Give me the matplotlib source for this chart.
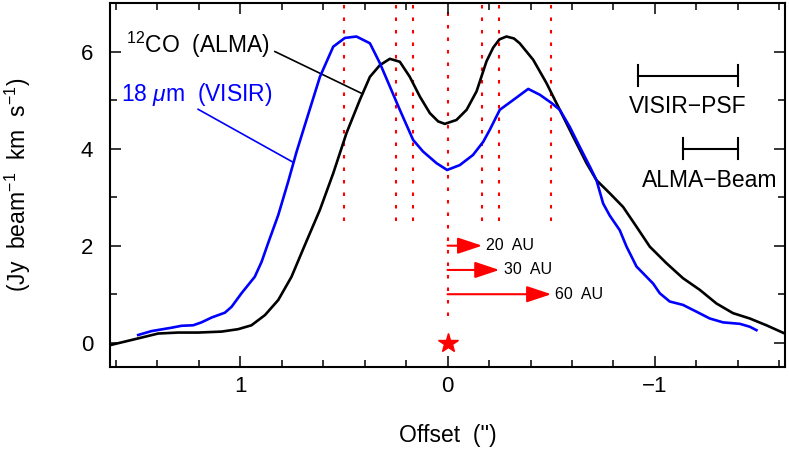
import numpy as np
import matplotlib
matplotlib.use("Agg")
import matplotlib.pyplot as plt
from matplotlib.ticker import MultipleLocator

plt.rcParams['font.family'] = ['Liberation Sans', 'DejaVu Sans']
plt.rcParams['mathtext.fontset'] = 'custom'
plt.rcParams['mathtext.rm'] = 'Liberation Sans'
plt.rcParams['mathtext.it'] = 'Liberation Sans:italic'

# 12CO (ALMA) profile, offset in arcsec
co_offset = [1.627, 1.491, 1.395, 1.300, 1.202, 1.089, 1.009, 0.945, 0.880, 0.816,
             0.752, 0.688, 0.615, 0.551, 0.487, 0.423, 0.374, 0.326, 0.278, 0.230,
             0.182, 0.133, 0.085, 0.045, 0.013, -0.043, -0.092, -0.140, -0.188, -0.220,
             -0.250, -0.284, -0.320, -0.348, -0.413, -0.477, -0.541, -0.605, -0.670, -0.718,
             -0.782, -0.846, -0.911, -0.975, -1.055, -1.135, -1.216, -1.296, -1.376, -1.457,
             -1.537, -1.626]
co_flux = [-0.05, 0.09, 0.19, 0.21, 0.21, 0.23, 0.28, 0.36, 0.57, 0.88,
           1.36, 2.01, 2.74, 3.49, 4.32, 5.00, 5.48, 5.72, 5.85, 5.79,
           5.48, 5.07, 4.73, 4.56, 4.51, 4.59, 4.80, 5.18, 5.80, 6.08,
           6.25, 6.31, 6.27, 6.17, 5.83, 5.35, 4.80, 4.25, 3.70, 3.35,
           3.08, 2.80, 2.39, 1.98, 1.64, 1.33, 1.09, 0.81, 0.61, 0.50,
           0.36, 0.19]

# 18 micron (VISIR) profile
ir_offset = [1.491, 1.427, 1.330, 1.282, 1.226, 1.186, 1.137, 1.073, 1.041, 0.993,
             0.929, 0.896, 0.865, 0.816, 0.768, 0.728, 0.680, 0.615, 0.551, 0.495,
             0.439, 0.374, 0.326, 0.278, 0.230, 0.166, 0.118, 0.053, 0.002, -0.059,
             -0.123, -0.172, -0.204, -0.252, -0.316, -0.389, -0.445, -0.501, -0.541, -0.589,
             -0.637, -0.686, -0.718, -0.750, -0.782, -0.830, -0.863, -0.911, -0.959, -0.991,
             -1.023, -1.071, -1.135, -1.200, -1.264, -1.328, -1.409, -1.457, -1.489]
ir_flux = [0.16, 0.24, 0.31, 0.35, 0.36, 0.42, 0.52, 0.62, 0.74, 1.02,
           1.36, 1.67, 2.05, 2.63, 3.32, 3.93, 4.59, 5.48, 6.10, 6.28,
           6.31, 6.17, 5.76, 5.28, 4.80, 4.18, 3.94, 3.70, 3.56, 3.66,
           3.87, 4.14, 4.39, 4.80, 5.00, 5.23, 5.11, 4.94, 4.80, 4.45,
           4.04, 3.63, 3.35, 2.87, 2.62, 2.32, 1.98, 1.57, 1.36, 1.22,
           1.02, 0.85, 0.78, 0.64, 0.50, 0.42, 0.39, 0.33, 0.26]

# radii marked with dotted lines (20, 30, 60 AU)
ring_radius = [0.167, 0.25, 0.5]
ring_label = ['20  AU', '30  AU', '60  AU']
arrow_level = [2.0, 1.5, 1.0]

# resolution bars
psf_bar = [-0.917, -1.398]
beam_bar = [-1.135, -1.398]

fig = plt.figure(figsize=(7.89, 4.5), dpi=100)
ax = fig.add_axes([0.1394, 0.1844, 0.8556, 0.8089])

ax.plot(co_offset, co_flux, color='black', lw=1.9, zorder=3)
ax.plot(ir_offset, ir_flux, color='#0000ff', lw=1.9, zorder=3)

# dotted guide lines
for r in ring_radius:
    for s in (1, -1):
        ax.plot([s * r, s * r], [2.5, 7.0], color='red', lw=1.5,
                linestyle=(0, (1.7, 4.3)), zorder=1)
ax.plot([0, 0], [0.55, 7.0], color='red', lw=1.5, linestyle=(0, (1.7, 4.3)), zorder=1)
ax.plot([0], [0], marker='*', color='red', markersize=15, zorder=4)

# arrows for radii
for r, lab, yv in zip(ring_radius, ring_label, arrow_level):
    ax.annotate('', xy=(-r, yv), xytext=(0, yv),
                arrowprops=dict(arrowstyle='-|>,head_length=1.5,head_width=0.5',
                                color='red', lw=1.5, mutation_scale=10,
                                shrinkA=0, shrinkB=0))
    ax.text(-r - 0.02, yv, lab, fontsize=11.5, ha='left', va='center')

# labels with connectors
ax.text(1.548, 5.98, r'$^{12}$CO  (ALMA)', fontsize=16.5, ha='left', va='baseline')
ax.plot([0.832, 0.41], [6.0, 5.13], color='black', lw=1.2)
ax.text(1.576, 4.99, r'18 $\mu$m  (VISIR)', fontsize=16.5, color='#0000ff',
        ha='left', va='baseline')
ax.plot([1.202, 0.749], [4.81, 3.73], color='#0000ff', lw=1.2)

# resolution bars
ax.plot(psf_bar, [5.5, 5.5], color='black', lw=1.5)
for xb in psf_bar:
    ax.plot([xb, xb], [5.28, 5.72], color='black', lw=1.5)
ax.text(-1.156, 4.86, 'VISIR\u2212PSF', fontsize=16.5, ha='center', va='center')
ax.plot(beam_bar, [4.0, 4.0], color='black', lw=1.5)
for xb in beam_bar:
    ax.plot([xb, xb], [3.79, 4.21], color='black', lw=1.5)
ax.text(-1.264, 3.35, 'ALMA\u2212Beam', fontsize=16.5, ha='center', va='center')

ax.set_xlim(1.627, -1.627)
ax.set_ylim(-0.5, 7.0)
ax.xaxis.set_major_locator(MultipleLocator(1))
ax.xaxis.set_minor_locator(MultipleLocator(0.2))
ax.yaxis.set_major_locator(MultipleLocator(2))
ax.yaxis.set_minor_locator(MultipleLocator(1))
ax.tick_params(which='both', direction='in', top=True, right=True, width=1.1)
ax.tick_params(which='major', length=8, labelsize=16)
ax.tick_params(which='minor', length=5)
ax.tick_params(axis='x', pad=6.5)
ax.tick_params(axis='y', pad=12)
for sp in ax.spines.values():
    sp.set_linewidth(1.5)

ax.set_xlabel("Offset  ('')", fontsize=16.5)
ax.xaxis.set_label_coords(0.5, -0.157)
ax.set_ylabel(r'(Jy  beam$^{-1}$  km  s$^{-1}$)', fontsize=16.5)
ax.yaxis.set_label_coords(-0.114, 0.5)

fig.savefig('out.png', dpi=100)
